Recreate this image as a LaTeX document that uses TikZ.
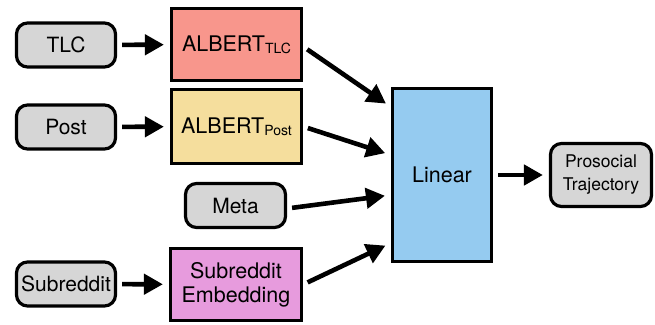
\documentclass[tikz,border=0pt]{standalone}
\usepackage{fontspec}
\setmainfont{TeX Gyre Heros}
\usetikzlibrary{arrows.meta}
\definecolor{inGray}{RGB}{214,214,214}
\definecolor{tlcRed}{RGB}{248,150,140}
\definecolor{postYel}{RGB}{245,222,157}
\definecolor{subPink}{RGB}{231,155,221}
\definecolor{linBlue}{RGB}{149,203,240}
\newcommand{\sbs}[1]{{\fontsize{14}{14}\selectfont\raisebox{-2pt}{#1}}}
\begin{document}
\begin{tikzpicture}[x=1pt,y=-1pt,
  inbox/.style={draw, line width=3.2pt, rounded corners=11pt, fill=inGray,
    minimum width=99pt, minimum height=44pt, inner sep=0pt,
    font=\fontsize{21}{24}\selectfont, align=center},
  procbox/.style={draw, line width=3.2pt, minimum width=130pt, minimum height=72pt,
    inner sep=0pt, font=\fontsize{21.5}{24}\selectfont, align=center},
  arr/.style={line width=4.6pt, -{Triangle[length=19pt,width=20pt]},
    shorten >=6pt, shorten <=5pt}
]
\useasboundingbox (0,0) rectangle (655,324);
\node[inbox] (tlc) at (66,45) {TLC};
\node[inbox] (post) at (66,127) {Post};
\node[inbox] (sub) at (66,284) {Subreddit};
\node[procbox, fill=tlcRed] (atlc) at (236.5,44.5) {ALBERT\sbs{TLC}};
\node[procbox, fill=postYel, minimum height=74pt] (apost) at (236.5,126.5) {ALBERT\sbs{Post}};
\node[inbox, minimum width=100pt] (meta) at (235.5,205.5) {Meta};
\node[procbox, fill=subPink, minimum width=131pt] (semb) at (236,284.5) {Subreddit\\Embedding};
\node[draw, line width=3.2pt, fill=linBlue, minimum width=99pt, minimum height=173pt,
  inner sep=0pt, font=\fontsize{21.5}{24}\selectfont] (lin) at (442,175) {Linear};
\node[inbox, minimum width=101pt, minimum height=63pt,
  font=\fontsize{17.5}{23}\selectfont] (pro) at (601,175) {Prosocial\\Trajectory};
\draw[arr] (tlc) -- (atlc);
\draw[arr] (post) -- (apost);
\draw[arr] (sub) -- (semb);
\draw[arr] ([yshift=-2pt]atlc.east) -- ([yshift=68pt]lin.west);
\draw[arr] (apost.east) -- ([yshift=20pt]lin.west);
\draw[arr] ([yshift=-3pt]meta.east) -- ([yshift=-20pt]lin.west);
\draw[arr] (semb.east) -- ([yshift=-68pt]lin.west);
\draw[arr] (lin) -- (pro);
\end{tikzpicture}
\end{document}
